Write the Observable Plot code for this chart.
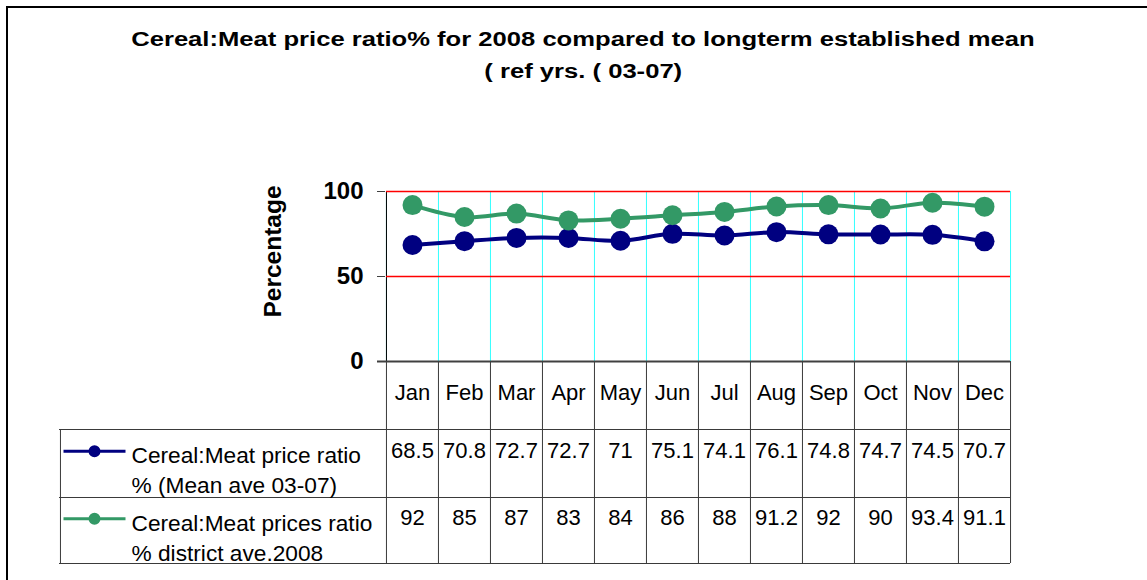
<!DOCTYPE html>
<html>
<head>
<meta charset="utf-8">
<script src="https://cdn.jsdelivr.net/npm/d3@7"></script>
<script src="https://cdn.jsdelivr.net/npm/@observablehq/plot@0.6"></script>
<style>
  body { margin: 0; background: #fff; }
  #wrap { position: relative; width: 1147px; height: 580px; overflow: hidden; font-family: "Liberation Sans", Arial, sans-serif; }
  #border { position: absolute; left: 6px; top: 6px; width: 1300px; height: 800px; border-left: 2px solid #000; border-top: 2px solid #000; pointer-events: none; }
  #header { position: relative; height: 95px; }
  .tl { position: absolute; left: 0; width: 1166px; text-align: center; font-weight: bold; font-size: 20px; line-height: 20px; white-space: nowrap; color: #000; }
  .tl span { display: inline-block; transform: scaleX(1.28); }
  #chart svg { display: block; }
</style>
</head>
<body>
<div id="wrap">
  <div id="header">
    <div class="tl" id="t1" style="top:29px"><span></span></div>
    <div class="tl" id="t2" style="top:61px"><span></span></div>
  </div>
  <div id="chart"></div>
  <div id="border"></div>
</div>
<script>
// ---- data ----
const titleLines = ["Cereal:Meat price ratio% for 2008 compared to longterm established mean", "( ref yrs. ( 03-07)"];
const months = ["Jan", "Feb", "Mar", "Apr", "May", "Jun", "Jul", "Aug", "Sep", "Oct", "Nov", "Dec"];
const meanAve = [68.5, 70.8, 72.7, 72.7, 71, 75.1, 74.1, 76.1, 74.8, 74.7, 74.5, 70.7];
const district2008 = [92, 85, 87, 83, 84, 86, 88, 91.2, 92, 90, 93.4, 91.1];
const seriesNames = ["Cereal:Meat price ratio\n% (Mean ave 03-07)", "Cereal:Meat prices ratio\n% district ave.2008"];
const seriesValues = [meanAve, district2008];
const yTicks = [0, 50, 100];
const yLabel = "Percentage";

document.querySelector("#t1 span").textContent = titleLines[0];
document.querySelector("#t2 span").textContent = titleLines[1];

// ---- layout ----
const W = 1147, H = 485;
const mL = 385, mR = 137, mT = 96, mB = 219;
const bw = (W - mL - mR) / months.length;
const frameH = H - mT - mB;
const tableLeft = 59 - mL;      // offset of the table's left edge from the frame's left
const rowBottoms = [68, 136, 202]; // below frame bottom
const rowTextDy = [81, 149];
const valueDy = [80.5, 147.5];
const legendDy = [89.7, 157.3];
const gridColor = "#33ffff";
const tableColor = "#3a3a3a";
const colors = ["#000080", "#339966"];

const rows = months.flatMap((m, i) => seriesNames.map((s, k) => ({month: m, series: s, value: seriesValues[k][i]})));

const legendSymbol = {
  draw(ctx) {
    ctx.moveTo(-31, 0); ctx.lineTo(31, 0);
    ctx.moveTo(4.5, 0); ctx.arc(0, 0, 4.5, 0, 2 * Math.PI);
  }
};

const marks = [
  // vertical cyan gridlines at category boundaries
  Plot.ruleX(months, {x: d => d, dx: -bw / 2, stroke: gridColor}),
  Plot.ruleX([months[months.length - 1]], {x: d => d, dx: bw / 2, stroke: gridColor}),
  // y axis
  Plot.axisY({ticks: yTicks, tickSize: 8, tickPadding: 14, fontSize: 24, fontWeight: "bold", stroke: "#404040", label: null}),
  Plot.ruleX([months[0]], {x: d => d, dx: -bw / 2, stroke: "#000"}),
  // red horizontal gridlines
  Plot.ruleY(yTicks.filter(t => t > 0), {y: d => d, stroke: "#ff0000", strokeWidth: 1.3, insetLeft: 1}),
  // table grid
  Plot.ruleX(months, {x: d => d, dx: -bw / 2, insetTop: frameH, insetBottom: -rowBottoms[2], stroke: tableColor}),
  Plot.ruleX([months[months.length - 1]], {x: d => d, dx: bw / 2, insetTop: frameH, insetBottom: -rowBottoms[2], stroke: tableColor}),
  Plot.ruleX([months[0]], {x: d => d, dx: -bw / 2 + tableLeft, insetTop: frameH + rowBottoms[0], insetBottom: -rowBottoms[2], stroke: tableColor}),
  ...rowBottoms.map(dy => Plot.ruleY([0], {y: d => d, dy, insetLeft: tableLeft, stroke: tableColor})),
  // x axis line
  Plot.ruleY([0], {y: d => d, stroke: "#404040", strokeWidth: 2, insetLeft: -8}),
  // table header: month names
  Plot.text(months, {x: d => d, text: d => d, frameAnchor: "bottom", dy: 22.7, lineAnchor: "top", fontSize: 22}),
  // table rows
  ...seriesNames.map((s, k) => Plot.text(months, {x: d => d, text: (d, i) => String(seriesValues[k][i]), frameAnchor: "bottom", dy: valueDy[k], lineAnchor: "top", fontSize: 22})),
  ...seriesNames.map((s, k) => Plot.text([s], {text: d => d, frameAnchor: "bottom-left", dx: 131 - mL, dy: rowTextDy[k], textAnchor: "start", lineAnchor: "top", lineHeight: 1.3, fontSize: 22.7})),
  ...seriesNames.map((s, k) => Plot.dot([s], {frameAnchor: "bottom-left", dx: 94 - mL, dy: legendDy[k], symbol: legendSymbol, fill: d => d, stroke: d => d, strokeWidth: 3})),
  // y label
  Plot.text([yLabel], {text: d => d, frameAnchor: "left", dx: 273 - mL, dy: -25, rotate: -90, fontSize: 24.5, fontWeight: "bold", textAnchor: "middle", lineAnchor: "middle"}),
  // series
  Plot.line(rows, {x: "month", y: "value", z: "series", stroke: "series", strokeWidth: 4, curve: "catmull-rom"}),
  Plot.dot(rows, {x: "month", y: "value", fill: "series", r: 10})
];

const chart = Plot.plot({
  width: W, height: H,
  marginLeft: mL, marginRight: mR, marginTop: mT, marginBottom: mB,
  style: {fontFamily: '"Liberation Sans", Arial, sans-serif', fontSize: "22px", color: "#000", background: "transparent", overflow: "visible"},
  x: {type: "band", domain: months, padding: 0, axis: null},
  y: {domain: [0, 100], axis: null},
  color: {domain: seriesNames, range: colors},
  marks
});
document.getElementById("chart").appendChild(chart);
</script>
</body>
</html>
